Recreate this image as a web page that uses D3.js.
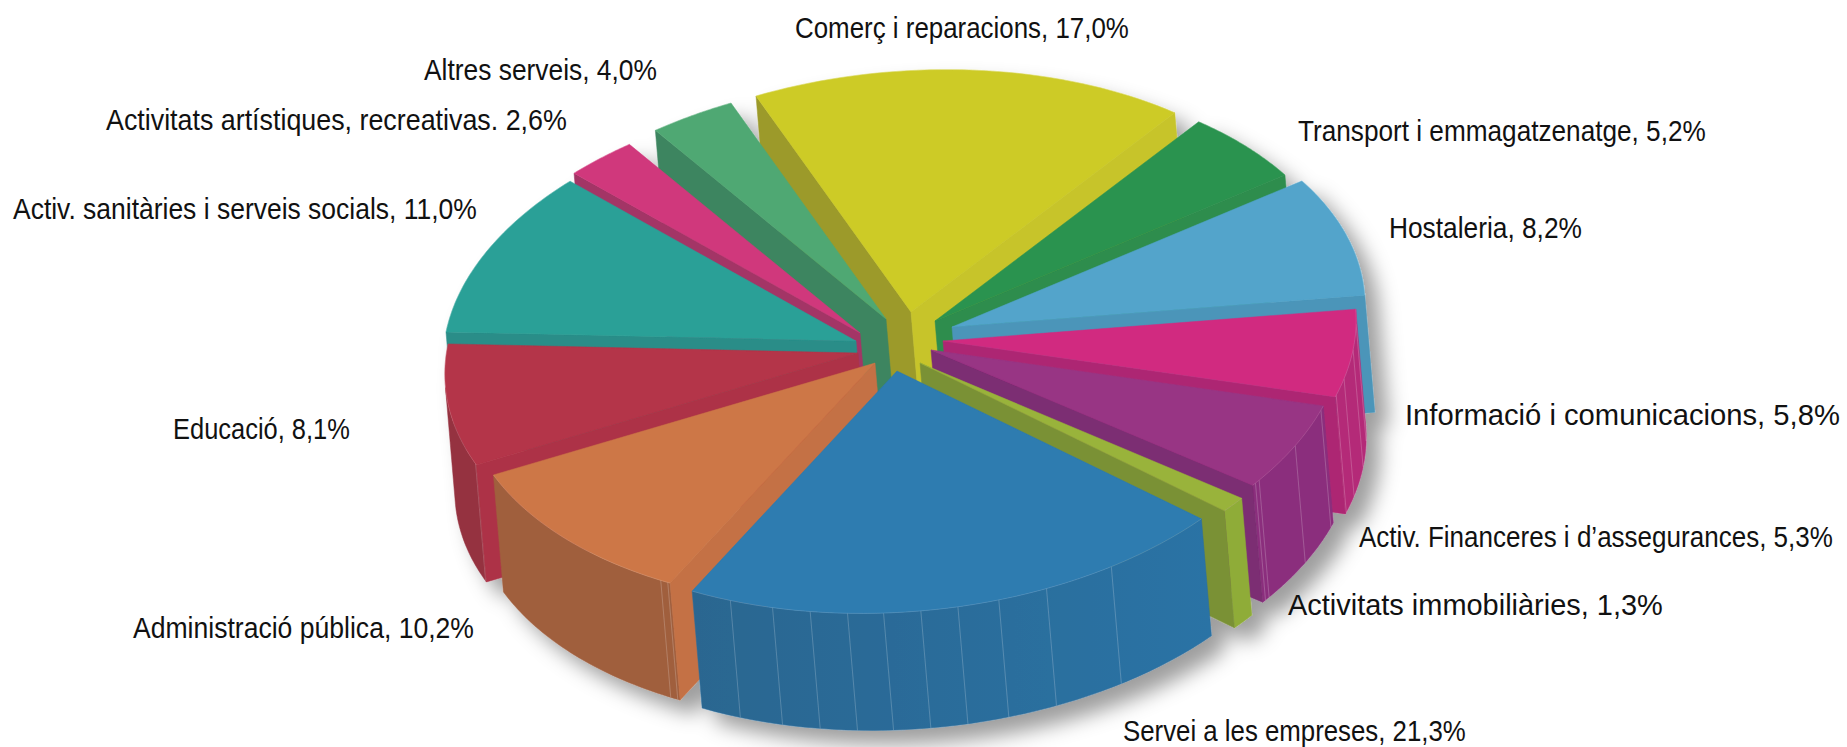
<!DOCTYPE html>
<html>
<head>
<meta charset="utf-8">
<script src="https://cdnjs.cloudflare.com/ajax/libs/d3/7.8.5/d3.min.js"></script>
<style>
  html, body { margin: 0; background: #fff; overflow: hidden; }
  text { font-family: "Liberation Sans Narrow", "Liberation Sans", sans-serif; font-size: 30px; fill: #111; }
</style>
</head>
<body>
<div id="chart"></div>
<script>
// data, clockwise from the top of the pie
var categories = ["Comerç i reparacions", "Transport i emmagatzenatge", "Hostaleria", "Informació i comunicacions",
  "Activ. Financeres i d’assegurances", "Activitats immobiliàries", "Servei a les empreses", "Administració pública",
  "Educació", "Activ. sanitàries i serveis socials", "Activitats artístiques, recreativas.", "Altres serveis"];
var values = [17.0, 5.2, 8.2, 5.8, 5.3, 1.3, 21.3, 10.2, 8.1, 11.0, 2.6, 4.0];
var valueLabels = ["17,0%", "5,2%", "8,2%", "5,8%", "5,3%", "1,3%", "21,3%", "10,2%", "8,1%", "11,0%", "2,6%", "4,0%"];

// colours
var topColors = ["#cdcb27", "#2c934f", "#52a4cb", "#d12a80", "#983484", "#99b33a", "#2d7bb0", "#cd7747", "#b43448", "#2ba097", "#d0397c", "#50a873"];
var startWallColors = ["#9c9a2a", "#2e8d4e", "#4b95b9", "#ad2873", "#7c2d73", "#7a9136", "#2b6d9c", "#c47144", "#ad3346", "#2a8d88", "#a33566", "#3e8560"];
var endWallColors = ["#c7c42b", "#2e8d4e", "#4b95b9", "#ad2873", "#7c2d73", "#7a9136", "#2b6d9c", "#c47144", "#ad3346", "#2a8d88", "#a33566", "#3e8560"];
var rimColors = ["#c7c42b", "#2e8d4e", "#4b95b9", "#b42a78", "#8b2f7d", "#8fac38", "url(#serveiRim)", "#a05f3e", "#95303f", "#2a8d88", "#a33566", "#3e8560"];

// layout of the exploded slices, relative to the pie centre
var centerX = 890, centerY = 340;
var explodeX = [21, 45, 62, 53, 41, 30, 7, -15, -32, -34, -30, -4];
var explodeY = [-28, -19, -13, 1, 10, 23, 31, 23, 13, 1, -7, -21];
var paintOrder = [0, 1, 11, 2, 10, 3, 9, 4, 8, 5, 7, 6];
var wallX = 10, wallY = 117;

// small drawing correction of each slice boundary, in degrees (13 edges)
var edgeTweak = [0, 0.5, 0, 0, 0, 1.5, 0.5, 1, 2, 2.5, 2, 2.5, 0];

// where the thin seams sit on each rim (fraction of the slice)
var seams = [[], [], [], [.17, .46, .79, .98], [.05, .48, .93, .97], [],
  [.21, .34, .43, .505, .572, .639, .704, .772, .842, .923], [.01, .04], [.01], [], [], []];

// label placement
var labelX = [795, 1298, 1389, 1405, 1359, 1288, 1123, 133, 173, 13, 106, 424];
var labelY = [38, 141, 238, 425, 547, 615, 741, 638, 439, 219, 130, 80];
var labelW = [334, 408, 193, 435, 474, 375, 343, 341, 177, 464, 461, 233];

var width = 1847, height = 747;

var svg = d3.select("#chart").append("svg")
  .attr("width", width)
  .attr("height", height);

var defs = svg.append("defs");
var shadow = defs.append("filter").attr("id", "pieShadow")
  .attr("x", "-10%").attr("y", "-10%").attr("width", "120%").attr("height", "125%");
shadow.append("feDropShadow")
  .attr("dx", 14).attr("dy", 14).attr("stdDeviation", 10)
  .attr("flood-color", "#000").attr("flood-opacity", 0.38);

var rimGradient = defs.append("linearGradient").attr("id", "serveiRim");
rimGradient.append("stop").attr("offset", "0%").attr("stop-color", "#2a6690");
rimGradient.append("stop").attr("offset", "100%").attr("stop-color", "#2c73a5");

// the tilted disc: sin and cos of the pie angle map linearly to the page
var xFromSin = d3.scaleLinear().domain([-1, 1]).range([-383, 383]);
var xFromCos = d3.scaleLinear().domain([-1, 1]).range([155, -155]);
var yFromSin = d3.scaleLinear().domain([-1, 1]).range([110, -110]);
var yFromCos = d3.scaleLinear().domain([-1, 1]).range([216, -216]);

function rimPoint(apex, angle) {
  return [
    apex[0] + xFromSin(Math.sin(angle)) + xFromCos(Math.cos(angle)),
    apex[1] + yFromSin(Math.sin(angle)) + yFromCos(Math.cos(angle))
  ];
}
function drop(p) {
  return [p[0] + wallX, p[1] + wallY];
}
function cross(a, b, cx, cy) {
  return (b[0] - a[0]) * cy - (b[1] - a[1]) * cx;
}

// wall drop vector written in disc coordinates, to know which part of the rim faces us
var det = xFromSin(1) * yFromCos(1) - xFromCos(1) * yFromSin(1);
var dropSin = (yFromCos(1) * wallX - xFromCos(1) * wallY) / det;
var dropCos = (xFromSin(1) * wallY - yFromSin(1) * wallX) / det;
function rimFacesViewer(angle) {
  return dropSin * Math.sin(angle) + dropCos * Math.cos(angle) > 0;
}

var pie = d3.pie().sort(null).value(function(d) { return d; });
var arcs = pie(values);
var line = d3.line();
var pieGroup = svg.append("g").attr("filter", "url(#pieShadow)");

paintOrder.forEach(function(i) {
  var a = arcs[i];
  var startAngle = a.startAngle + edgeTweak[i] * Math.PI / 180;
  var endAngle = a.endAngle + edgeTweak[i + 1] * Math.PI / 180;
  var apex = [centerX + explodeX[i], centerY + explodeY[i]];
  var steps = d3.range(0, 41).map(function(k) {
    return startAngle + (endAngle - startAngle) * k / 40;
  });
  var rim = steps.map(function(t) { return rimPoint(apex, t); });
  var first = rim[0], last = rim[rim.length - 1];
  var g = pieGroup.append("g").attr("class", "slice");

  // outer wall, only the part turned towards the viewer
  var front = steps.filter(rimFacesViewer).map(function(t) { return rimPoint(apex, t); });
  if (front.length > 1) {
    g.append("path")
      .attr("d", line(front.concat(front.slice().reverse().map(drop))) + "Z")
      .attr("fill", rimColors[i])
      .attr("stroke", rimColors[i] === "url(#serveiRim)" ? "#2b6d9c" : rimColors[i])
      .attr("stroke-width", 0.5);
  }

  seams[i].forEach(function(f) {
    var p = rimPoint(apex, startAngle + (endAngle - startAngle) * f);
    g.append("path")
      .attr("d", line([p, drop(p)]))
      .attr("stroke", "#fff")
      .attr("stroke-opacity", 0.25)
      .attr("stroke-width", 0.8)
      .attr("fill", "none");
  });

  // a cut face only shows when dropping the edge moves it out of the top face
  var startShows = cross(apex, first, wallX, wallY) * cross(apex, first, last[0] - apex[0], last[1] - apex[1]) < 0;
  var endShows = cross(apex, last, wallX, wallY) * cross(apex, last, first[0] - apex[0], first[1] - apex[1]) < 0;
  if (startShows) {
    g.append("path")
      .attr("d", line([apex, first, drop(first), drop(apex)]) + "Z")
      .attr("fill", startWallColors[i])
      .attr("stroke", startWallColors[i])
      .attr("stroke-width", 0.5);
  }
  if (endShows) {
    g.append("path")
      .attr("d", line([apex, last, drop(last), drop(apex)]) + "Z")
      .attr("fill", endWallColors[i])
      .attr("stroke", endWallColors[i])
      .attr("stroke-width", 0.5);
  }

  // top face
  g.append("path")
    .attr("d", line([apex].concat(rim)) + "Z")
    .attr("fill", topColors[i])
    .attr("stroke", topColors[i])
    .attr("stroke-width", 0.5);
  g.append("path")
    .attr("d", line(rim))
    .attr("fill", "none")
    .attr("stroke", "#fff")
    .attr("stroke-opacity", 0.18)
    .attr("stroke-width", 0.7);
});

// labels, squeezed horizontally to the width they have in the picture
svg.append("g").selectAll("text")
  .data(categories)
  .enter()
  .append("text")
  .text(function(d, i) { return d + (i === 10 ? " " : ", ") + valueLabels[i]; })
  .attr("transform", function(d, i) {
    var sx = labelW[i] / this.getComputedTextLength();
    return "translate(" + labelX[i] + "," + labelY[i] + ") scale(" + sx + ",1)";
  });
</script>
</body>
</html>
